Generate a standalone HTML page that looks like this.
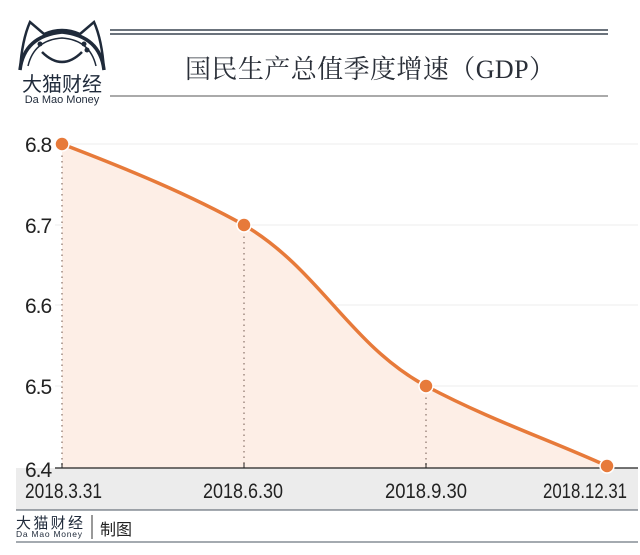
<!DOCTYPE html>
<html><head><meta charset="utf-8"><style>
html,body{margin:0;padding:0;background:#fff;width:640px;height:555px;overflow:hidden}
svg{display:block}
</style></head><body>
<svg width="640" height="555" viewBox="0 0 640 555" xmlns="http://www.w3.org/2000/svg">
<!-- logo -->
<g fill="none" stroke="#1f2a3a" stroke-width="2.5">
<path d="M20 70 Q22 40 30 22 L44 34 Q62 26 80 34 L94 22 Q102 40 104 70"/>
<path d="M20 70 Q24 36 62 32 Q100 36 104 70" stroke-width="3.5"/>
<path d="M42 52 Q62 72 82 52"/>
<path d="M28 66 Q34 40 62 38 Q90 40 96 66" stroke-width="1.5"/>
</g>
<circle cx="40" cy="44" r="2.5" fill="#1f2a3a"/><circle cx="84" cy="44" r="2.5" fill="#1f2a3a"/><circle cx="87" cy="50" r="2.5" fill="#1f2a3a"/>
<text x="62" y="91" text-anchor="middle" font-family="Liberation Sans,Noto Sans CJK SC,sans-serif" font-size="20" fill="#1f2a3a">大猫财经</text>
<text x="62" y="103" text-anchor="middle" font-family="Liberation Sans,sans-serif" font-size="11" fill="#1f2a3a">Da Mao Money</text>
<!-- title lines -->
<line x1="110" y1="30" x2="608" y2="30" stroke="#3a4550" stroke-width="1.5"/>
<line x1="110" y1="34" x2="608" y2="34" stroke="#3a4550" stroke-width="1.5"/>
<line x1="110" y1="96" x2="608" y2="96" stroke="#555" stroke-width="1"/>
<text x="370" y="78" text-anchor="middle" font-family="Liberation Serif,Noto Serif CJK SC,serif" font-size="26" textLength="370" fill="#2a2f38">国民生产总值季度增速（GDP）</text>
<!-- grid -->
<g stroke="#eee" stroke-width="1">
<line x1="55" y1="144" x2="638" y2="144"/><line x1="55" y1="225" x2="638" y2="225"/>
<line x1="55" y1="305" x2="638" y2="305"/><line x1="55" y1="386" x2="638" y2="386"/>
</g>
<!-- x band -->
<rect x="16" y="468" width="622" height="42" fill="#ececec"/>
<line x1="16" y1="510" x2="638" y2="510" stroke="#4a5560" stroke-width="1"/>
<!-- area -->
<path d="M62 144 C130 170 190 195 244 225 C320 270 350 345 426 386 C490 420 550 440 607 466 L607 468 L62 468 Z" fill="#fdeee6"/>
<g stroke="#a08a80" stroke-width="1.5" stroke-dasharray="1.5 4">
<line x1="62" y1="150" x2="62" y2="468"/><line x1="244" y1="231" x2="244" y2="468"/><line x1="426" y1="392" x2="426" y2="468"/>
</g>
<line x1="55" y1="468" x2="638" y2="468" stroke="#222" stroke-width="1.2"/>
<g stroke="#222"><line x1="62" y1="463" x2="62" y2="468"/><line x1="244" y1="463" x2="244" y2="468"/><line x1="426" y1="463" x2="426" y2="468"/></g>
<path d="M62 144 C130 170 190 195 244 225 C320 270 350 345 426 386 C490 420 550 440 607 466" fill="none" stroke="#e77a3a" stroke-width="3.5"/>
<g fill="#e77a3a" stroke="#fff" stroke-width="1.5">
<circle cx="62" cy="144" r="7"/><circle cx="244" cy="225" r="7"/><circle cx="426" cy="386" r="7"/><circle cx="607" cy="466" r="7"/>
</g>
<g font-family="Liberation Sans,sans-serif" font-size="21" fill="#222" letter-spacing="-1">
<text x="25" y="152">6.8</text><text x="25" y="233">6.7</text><text x="25" y="313">6.6</text><text x="25" y="394">6.5</text><text x="25" y="477">6.4</text>
</g>
<g font-family="Liberation Sans,sans-serif" font-size="21" fill="#222">
<text x="25" y="498" textLength="77" lengthAdjust="spacingAndGlyphs">2018.3.31</text>
<text x="203" y="498" textLength="80" lengthAdjust="spacingAndGlyphs">2018.6.30</text>
<text x="385" y="498" textLength="82" lengthAdjust="spacingAndGlyphs">2018.9.30</text>
<text x="543" y="498" textLength="84" lengthAdjust="spacingAndGlyphs">2018.12.31</text>
</g>
<!-- footer -->
<text x="16" y="528" font-family="Liberation Sans,Noto Sans CJK SC,sans-serif" font-size="15" textLength="67" fill="#1f2a3a">大猫财经</text>
<text x="16" y="537" font-family="Liberation Sans,sans-serif" font-size="8.5" textLength="66" fill="#1f2a3a">Da Mao Money</text>
<line x1="92" y1="515" x2="92" y2="539" stroke="#333" stroke-width="1"/>
<text x="100" y="535" font-family="Liberation Sans,Noto Sans CJK SC,sans-serif" font-size="16" fill="#222">制图</text>
<line x1="16" y1="542" x2="638" y2="542" stroke="#4a5560" stroke-width="1"/>
</svg>
</body></html>
